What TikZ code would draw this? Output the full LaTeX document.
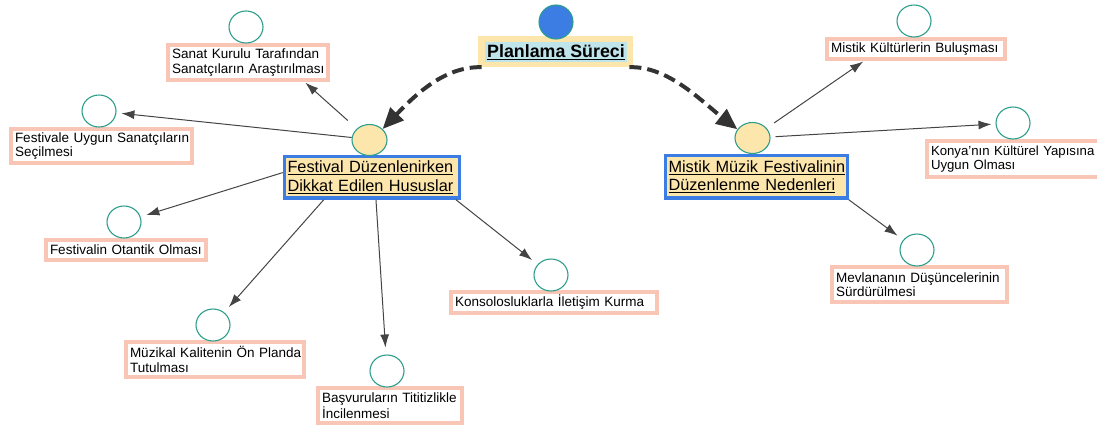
\documentclass[tikz,border=0pt]{standalone}
\usepackage{fontspec}
\setmainfont{Liberation Sans}
\usetikzlibrary{arrows.meta,shapes.geometric}
\definecolor{salmon}{HTML}{F9C6B6}
\definecolor{tealc}{HTML}{2E9E8C}
\definecolor{hblue}{HTML}{3B7DE3}
\definecolor{hyellow}{HTML}{FDE6AC}
\definecolor{lblue}{HTML}{BFE4EA}
\definecolor{arr}{HTML}{444444}
\definecolor{darc}{HTML}{333333}
\newcommand{\lbx}[1]{\mbox{#1}}
\begin{document}
\begin{tikzpicture}[x=1pt,y=-1pt,
  leaf/.style={draw=salmon, line width=4pt, fill=white, inner xsep=4pt, inner ysep=2pt,
    align=left, anchor=north west, font=\fontsize{13.5}{14.5}\selectfont},
  head/.style={draw=hblue, line width=3.5pt, fill=hyellow, inner xsep=3pt, inner ysep=2pt,
    align=left, anchor=north west, font=\fontsize{16.3}{18.5}\selectfont},
  lc/.style={ellipse, draw=tealc, line width=1.1pt, fill=white, minimum width=34pt, minimum height=32pt, inner sep=0pt},
  hc/.style={ellipse, draw=tealc, line width=1.1pt, fill=hyellow, minimum width=35pt, minimum height=31pt, inner sep=0pt},
  conn/.style={draw=arr, line width=1pt, -{Latex[length=13pt,width=9pt]}},
  big/.style={draw=darc, line width=4pt, dash pattern=on 12pt off 6pt, -{Triangle[length=21pt,width=18pt]}},
]
\useasboundingbox (0,0) rectangle (1097,424);

% top node
\node[fill=hyellow, minimum width=155pt, minimum height=31pt, inner sep=0pt] (plan) at (555.5,51.5) {};
\node[fill=lblue, inner xsep=2pt, inner ysep=2pt, font=\fontsize{17.8}{20}\selectfont\bfseries] (plantext) at (556,52) {\underline{Planlama Süreci}};
\node[ellipse, draw=tealc, line width=1.1pt, fill=hblue, minimum width=34pt, minimum height=34pt, inner sep=0pt] (topc) at (556,22) {};

% heading boxes
\node[head, text width=169pt, minimum height=41.5pt] (fbox) at (282.75,154.75) {\lbx{\underline{Festival Düzenlenirken}}\\\lbx{\underline{Dikkat Edilen Hususlar}}};
\node[head, text width=176pt, minimum height=42.5pt] (mbox) at (663.75,153.75) {\lbx{\underline{Mistik Müzik Festivalinin}}\\\lbx{\underline{Düzenlenme Nedenleri}}};
\node[hc] (fc) at (369.5,140) {};
\node[hc] (mc) at (752.5,138) {};

% leaves
\node[leaf, text width=152pt, minimum height=35pt] (sanatbox) at (166,43) {\lbx{Sanat Kurulu Tarafından}\\\lbx{Sanatçıların Araştırılması}};
\node[lc] (sanatc) at (246,27) {};
\node[leaf, text width=173pt, minimum height=34pt] (fubox) at (9,127) {\lbx{Festivale Uygun Sanatçıların}\\\lbx{Seçilmesi}};
\node[lc] (fuc) at (99,111) {};
\node[leaf, text width=152pt, minimum height=20pt] (otbox) at (44,238) {\lbx{Festivalin Otantik Olması}};
\node[lc] (otc) at (124,222) {};
\node[leaf, text width=170pt, minimum height=35pt] (muzbox) at (124,340) {\lbx{Müzikal Kalitenin Ön Planda}\\\lbx{Tutulması}};
\node[lc] (muzc) at (213,325) {};
\node[leaf, text width=136pt, minimum height=35pt] (basbox) at (316,386) {\lbx{Başvuruların Tititizlikle}\\\lbx{İncilenmesi}};
\node[lc] (basc) at (387,371) {};
\node[leaf, text width=198pt, minimum height=21pt] (konsbox) at (449,290) {\lbx{Konsolosluklarla İletişim Kurma}};
\node[lc] (konsc) at (551,275) {};
\node[leaf, text width=170pt, minimum height=20pt] (mkbox) at (825,37) {\lbx{Mistik Kültürlerin Buluşması}};
\node[lc] (mkc) at (914,21) {};
\node[leaf, text width=166pt, minimum height=36pt, font=\fontsize{13.2}{14.5}\selectfont] (konyabox) at (925,139) {\lbx{Konya{\char"0027}nın Kültürel Yapısına}\\\lbx{Uygun Olması}};
\node[lc] (konyac) at (1013,123) {};
\node[leaf, text width=167pt, minimum height=35pt] (mevbox) at (830,265) {\lbx{Mevlananın Düşüncelerinin}\\\lbx{Sürdürülmesi}};
\node[lc] (mevc) at (917,250) {};

% dashed curves
\draw[big] (plan.-168) .. controls (445,66) and (415,95) .. (fc.40);
\draw[big] (plan.-12) .. controls (668,66) and (700,100) .. (mc.150);

% connectors
\draw[conn, shorten <=12pt, shorten >=1pt] (fc.138) -- (sanatbox.-19);
\draw[conn, shorten >=5pt] (fc.172) -- (fuc);
\draw[conn, shorten >=6pt] (fbox.177) -- (otc);
\draw[conn, shorten >=7pt] (fbox.-155) -- (muzc);
\draw[conn, shorten >=7pt] (fbox.-80) -- (basc);
\draw[conn, shorten >=7pt] (fbox.-15.5) -- (konsc);
\draw[conn, shorten <=9pt, shorten >=1pt] (mc.35) -- (mkbox.-167);
\draw[conn, shorten <=5pt, shorten >=4pt] (mc) -- (konyac);
\draw[conn, shorten >=7pt] (mbox.-14.9) -- (mevc);
\end{tikzpicture}
\end{document}
